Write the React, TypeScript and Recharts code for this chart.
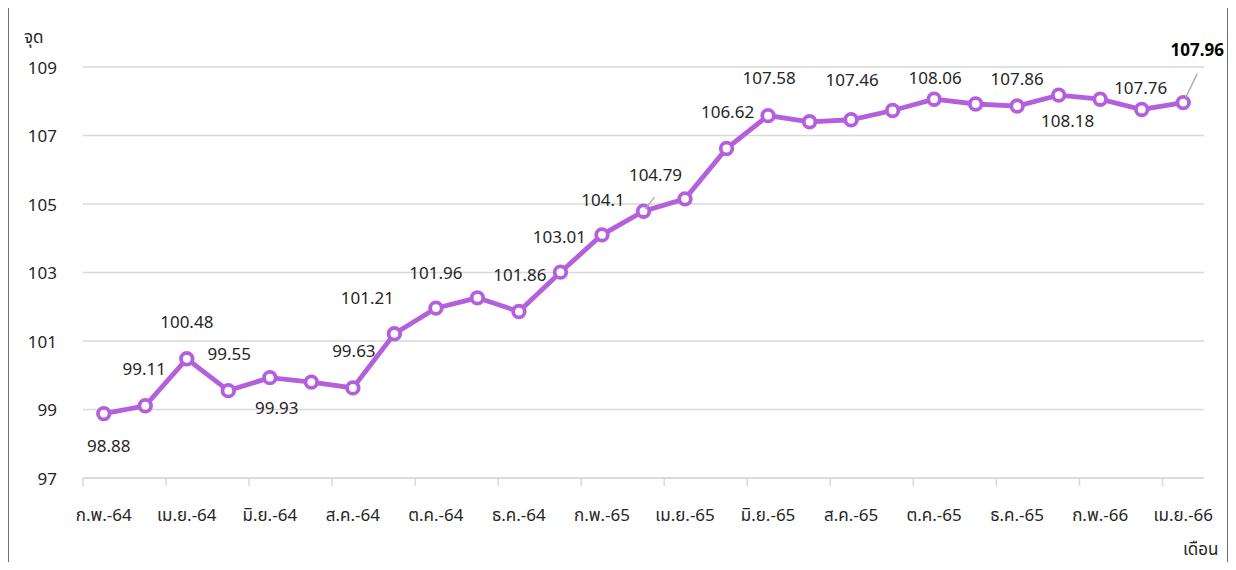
import { LineChart, Line, XAxis, YAxis, CartesianGrid, LabelList } from 'recharts'

// เดือน (ก.พ.-64 .. เม.ย.-66)
const months = [
  'ก.พ.-64', 'มี.ค.-64', 'เม.ย.-64', 'พ.ค.-64', 'มิ.ย.-64', 'ก.ค.-64', 'ส.ค.-64', 'ก.ย.-64', 'ต.ค.-64',
  'พ.ย.-64', 'ธ.ค.-64', 'ม.ค.-65', 'ก.พ.-65', 'มี.ค.-65', 'เม.ย.-65', 'พ.ค.-65', 'มิ.ย.-65', 'ก.ค.-65',
  'ส.ค.-65', 'ก.ย.-65', 'ต.ค.-65', 'พ.ย.-65', 'ธ.ค.-65', 'ม.ค.-66', 'ก.พ.-66', 'มี.ค.-66', 'เม.ย.-66',
]

// ค่าดัชนี (จุด)
const values = [
  98.88, 99.11, 100.48, 99.55, 99.93, 99.8, 99.63, 101.21, 101.96,
  102.26, 101.86, 103.01, 104.1, 104.79, 105.15, 106.62, 107.58, 107.4,
  107.46, 107.73, 108.06, 107.92, 107.86, 108.18, 108.06, 107.76, 107.96,
]

const yTicks = [97, 99, 101, 103, 105, 107, 109]

// which points carry a value label (false = no label drawn)
const labelled = [
  true, true, true, true, true, false, true, true, true,
  false, true, true, true, true, false, true, true, false,
  true, false, true, false, true, true, false, true, true,
]

// label placement relative to the point: [dx, dy, leaderX, leaderY] (leader 0 = none)
const labelPlace: number[][] = [
  [5, 32, 0, 0], [-1, -37, 0, 0], [0, -37, 0, 0], [1, -37, 0, 0], [7, 30, 0, 0], [0, 0, 0, 0],
  [1, -37, 0, 0], [-27, -36, 0, 0], [0, -36, 0, 0], [0, 0, 0, 0], [1, -37, 0, 0], [-1, -36, 0, 0],
  [1, -35, 0, 0], [12, -37, 11, -14], [0, 0, 0, 0], [1, -37, 0, 0], [1, -38, 0, 0], [0, 0, 0, 0],
  [1, -40, 0, 0], [0, 0, 0, 0], [1, -22, 0, 0], [0, 0, 0, 0], [0, -28, 0, 0], [9, 25, 0, 0],
  [0, 0, 0, 0], [-1, -22, 0, 0], [14, -53, 14, -29],
]

const data = months.map((m, i) => ({ month: m, v: values[i] }))

const W = 1220
const H = 554
const M = { top: 59, right: 24, left: 0, bottom: 44 }
const X_AXIS_H = 40
const Y_AXIS_W = 75
const PLOT_W = W - M.left - M.right - Y_AXIS_W
const PLOT_BOTTOM = H - M.bottom - X_AXIS_H
const HALF_BAND = PLOT_W / months.length / 2

const FONT = "'Noto Sans', 'Noto Sans Thai', Tahoma, sans-serif"
const PURPLE = '#b460dc'
const GRID = '#d9d9d9'
const TXT = '#262626'

const XTick = (props: any) => {
  const cx = props.payload.coordinate
  return (
    <g>
      <line x1={cx - HALF_BAND} x2={cx - HALF_BAND} y1={PLOT_BOTTOM} y2={PLOT_BOTTOM + 8} stroke={GRID} strokeWidth={1.5} />
      <text x={cx} y={PLOT_BOTTOM + 36} textAnchor="middle" dominantBaseline="central"
        fontSize={17} fill={TXT} fontFamily={FONT}>{props.payload.value}</text>
    </g>
  )
}

const YTick = (props: any) => (
  <text x={49} y={props.y} textAnchor="end" dominantBaseline="central" fontSize={17} fill={TXT} fontFamily={FONT}>
    {props.payload.value}
  </text>
)

const ValueLabel = (props: any) => {
  const { x, y, index, value } = props
  if (!labelled[index]) return null
  const [dx, dy, lx, ly] = labelPlace[index]
  const last = index === values.length - 1
  return (
    <g>
      {(lx !== 0 || ly !== 0) && (
        <line x1={x + lx * 0.15} y1={y + ly * 0.15} x2={x + lx} y2={y + ly} stroke="#a6a6a6" strokeWidth={1.3} />
      )}
      <text x={x + dx} y={y + dy} textAnchor="middle" dominantBaseline="central" fontSize={17}
        fontWeight={last ? 700 : 400} fill={last ? '#000' : TXT} fontFamily={FONT}>
        {value}
      </text>
    </g>
  )
}

export default function App() {
  return (
    <div style={{ position: 'relative', width: W, height: H, fontFamily: FONT }}>
      <div style={{
        position: 'absolute', left: -1, top: -3, width: 1222, height: 565, boxSizing: 'border-box',
        border: '2px solid #6f6f6f', borderBottom: 'none',
      }} />
      <LineChart width={W} height={H} data={data} margin={M}>
        <CartesianGrid vertical={false} stroke={GRID} strokeWidth={1.5} />
        <XAxis dataKey="month" interval={1} height={X_AXIS_H} padding={{ left: HALF_BAND, right: HALF_BAND }}
          axisLine={{ stroke: GRID, strokeWidth: 1.5 }} tickLine={false} tick={<XTick />} />
        <YAxis domain={[97, 109]} ticks={yTicks} width={Y_AXIS_W} axisLine={false} tickLine={false}
          tick={<YTick />} />
        <Line type="linear" dataKey="v" stroke={PURPLE} strokeWidth={4.8}
          dot={{ r: 5.8, fill: '#fff', stroke: PURPLE, strokeWidth: 3.8 }} activeDot={false}
          isAnimationActive={false}>
          <LabelList dataKey="v" content={<ValueLabel />} />
        </Line>
      </LineChart>
      <div style={{ position: 'absolute', left: 16, top: 17, fontSize: 17, lineHeight: '24px', color: TXT }}>จุด</div>
      <div style={{ position: 'absolute', left: 1175, top: 529, fontSize: 17, lineHeight: '24px', color: TXT }}>เดือน</div>
    </div>
  )
}
